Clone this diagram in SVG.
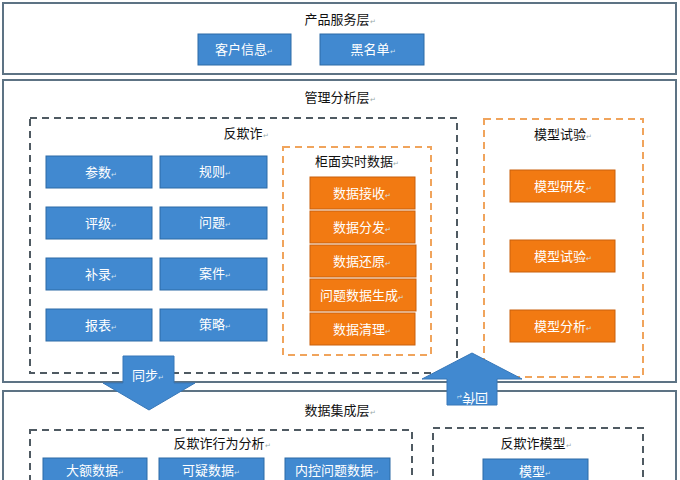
<svg xmlns="http://www.w3.org/2000/svg" width="680" height="480" viewBox="0 0 680 480">
<defs>
<style>
.layer{fill:#fff;stroke:#5d7384;stroke-width:2}
.dgray{fill:none;stroke:#4f5a62;stroke-width:2;stroke-dasharray:7 5}
.dorange{fill:none;stroke:#f0a45c;stroke-width:2;stroke-dasharray:7 5}
.blue{fill:#4189d0;stroke:#2d6aa6;stroke-width:1}
.orange{fill:#f27a12;stroke:#c9600c;stroke-width:1}
.arrow{fill:#4189d0;stroke:#3777b8;stroke-width:1}
text{font-family:"Noto Sans CJK SC","Noto Sans",sans-serif;text-anchor:middle}
.title{font-size:13px;fill:#111}
.lbl{font-size:13px;fill:#fff}
.pm{font-size:7px;fill:#9aa}
.pmw{font-size:7px;fill:#cfe0f0}
</style>
</defs>
<rect width="680" height="480" fill="#fff"/>

<g id="layer-product">
<rect class="layer" x="3" y="3" width="673" height="71"/>
<text class="title" x="340" y="24">产品服务层<tspan class="pm">↵</tspan></text>
</g>
<g id="node-kehu"><rect class="blue" x="198" y="34" width="93" height="31"/><text class="lbl" x="244" y="54">客户信息<tspan class="pmw">↵</tspan></text></g>
<g id="node-heimingdan"><rect class="blue" x="320" y="34" width="104" height="31"/><text class="lbl" x="373" y="54">黑名单<tspan class="pmw">↵</tspan></text></g>

<g id="layer-manage">
<rect class="layer" x="3" y="80" width="673" height="302"/>
<text class="title" x="340" y="102">管理分析层<tspan class="pm">↵</tspan></text>
</g>

<g id="group-fanqizha">
<rect class="dgray" x="30" y="118" width="427" height="255"/>
<text class="title" x="246" y="138">反欺诈<tspan class="pm">↵</tspan></text>
</g>
<g id="node-canshu"><rect class="blue" x="46" y="156" width="106" height="32"/><text class="lbl" x="101" y="177">参数<tspan class="pmw">↵</tspan></text></g>
<g id="node-guize"><rect class="blue" x="160" y="156" width="107" height="32"/><text class="lbl" x="215" y="176">规则<tspan class="pmw">↵</tspan></text></g>
<g id="node-pingji"><rect class="blue" x="46" y="207" width="106" height="32"/><text class="lbl" x="101" y="228">评级<tspan class="pmw">↵</tspan></text></g>
<g id="node-wenti"><rect class="blue" x="160" y="207" width="107" height="32"/><text class="lbl" x="215" y="227">问题<tspan class="pmw">↵</tspan></text></g>
<g id="node-bulu"><rect class="blue" x="46" y="258" width="106" height="32"/><text class="lbl" x="101" y="279">补录<tspan class="pmw">↵</tspan></text></g>
<g id="node-anjian"><rect class="blue" x="160" y="258" width="107" height="32"/><text class="lbl" x="215" y="278">案件<tspan class="pmw">↵</tspan></text></g>
<g id="node-baobiao"><rect class="blue" x="46" y="309" width="106" height="32"/><text class="lbl" x="101" y="330">报表<tspan class="pmw">↵</tspan></text></g>
<g id="node-celue"><rect class="blue" x="160" y="309" width="107" height="32"/><text class="lbl" x="215" y="329">策略<tspan class="pmw">↵</tspan></text></g>

<g id="group-guimian">
<rect class="dorange" x="283" y="147" width="148" height="208"/>
<text class="title" x="357" y="166">柜面实时数据<tspan class="pm">↵</tspan></text>
</g>
<g id="node-jieshou"><rect class="orange" x="310" y="177" width="105" height="32"/><text class="lbl" x="362" y="198">数据接收<tspan class="pmw">↵</tspan></text></g>
<g id="node-fenfa"><rect class="orange" x="310" y="211" width="105" height="32"/><text class="lbl" x="362" y="232">数据分发<tspan class="pmw">↵</tspan></text></g>
<g id="node-huanyuan"><rect class="orange" x="310" y="245" width="106" height="32"/><text class="lbl" x="362" y="266">数据还原<tspan class="pmw">↵</tspan></text></g>
<g id="node-shengcheng"><rect class="orange" x="310" y="279" width="106" height="32"/><text class="lbl" x="362" y="300">问题数据生成<tspan class="pmw">↵</tspan></text></g>
<g id="node-qingli"><rect class="orange" x="310" y="313" width="105" height="32"/><text class="lbl" x="362" y="334">数据清理<tspan class="pmw">↵</tspan></text></g>

<g id="group-moxing">
<rect class="dorange" x="484" y="119" width="159" height="258"/>
<text class="title" x="563" y="139">模型试验<tspan class="pm">↵</tspan></text>
</g>
<g id="node-yanfa"><rect class="orange" x="510" y="170" width="105" height="32"/><text class="lbl" x="563" y="191">模型研发<tspan class="pmw">↵</tspan></text></g>
<g id="node-shiyan"><rect class="orange" x="510" y="240" width="105" height="32"/><text class="lbl" x="563" y="261">模型试验<tspan class="pmw">↵</tspan></text></g>
<g id="node-fenxi"><rect class="orange" x="510" y="310" width="105" height="32"/><text class="lbl" x="563" y="331">模型分析<tspan class="pmw">↵</tspan></text></g>

<g id="layer-data">
<rect class="layer" x="3" y="391" width="673" height="100"/>
<text class="title" x="340" y="415">数据集成层<tspan class="pm">↵</tspan></text>
</g>
<g id="group-xingwei">
<rect class="dgray" x="30" y="430" width="382" height="70"/>
<text class="title" x="222" y="448">反欺诈行为分析<tspan class="pm">↵</tspan></text>
</g>
<g id="group-fqzmoxing">
<rect class="dgray" x="433" y="428" width="210" height="72"/>
<text class="title" x="536" y="448">反欺诈模型<tspan class="pm">↵</tspan></text>
</g>
<g id="node-dae"><rect class="blue" x="43" y="458" width="104" height="32"/><text class="lbl" x="95" y="475">大额数据<tspan class="pmw">↵</tspan></text></g>
<g id="node-keyi"><rect class="blue" x="159" y="458" width="105" height="32"/><text class="lbl" x="211" y="475">可疑数据<tspan class="pmw">↵</tspan></text></g>
<g id="node-neikong"><rect class="blue" x="285" y="458" width="105" height="32"/><text class="lbl" x="337" y="475">内控问题数据<tspan class="pmw">↵</tspan></text></g>
<g id="node-moxing"><rect class="blue" x="483" y="459" width="105" height="32"/><text class="lbl" x="535" y="476">模型<tspan class="pmw">↵</tspan></text></g>

<g id="connectors">
<g id="arrow-tongbu">
<polygon class="arrow" points="123,356 174,356 174,383 195,383 149,410 103,383 123,383"/>
<text class="lbl" x="148" y="380">同步<tspan class="pmw">↵</tspan></text>
</g>
<g id="arrow-huichuan">
<polygon class="arrow" points="472,353 522,379 497,379 497,405 447,405 447,379 422,379"/>
<text class="lbl" x="472" y="386" transform="rotate(180 472 390)">回传<tspan class="pmw">↵</tspan></text>
</g>
</g>
</svg>
